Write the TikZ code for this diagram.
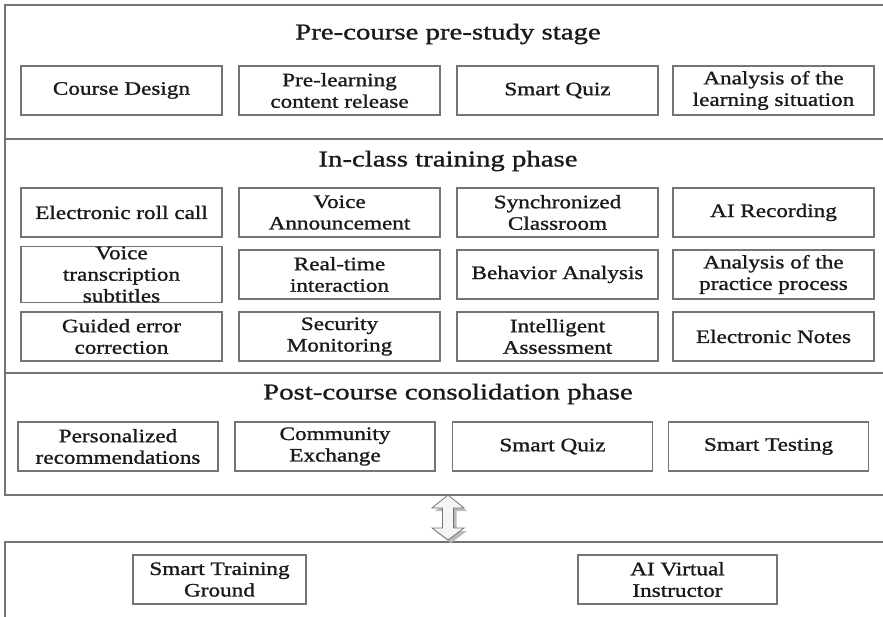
\documentclass[tikz,border=0pt]{standalone}
\usepackage{fontspec}
\setmainfont{Liberation Serif}
\newfontfamily\boxfont[FakeStretch=1.22,FakeBold=1.2]{Liberation Serif}
\newfontfamily\titlefont[FakeStretch=1.28,FakeBold=1.2]{Liberation Serif}
\definecolor{linegray}{HTML}{747474}
\definecolor{txt}{HTML}{1A1A1A}
\tikzset{
  item/.style={draw=linegray, line width=1.3pt, minimum height=49pt, inner sep=0pt,
    align=center, text=txt, font=\boxfont\fontsize{19}{21.5}\selectfont},
  w201/.style={minimum width=201pt},
  w200/.style={minimum width=200pt},
  title/.style={text=txt, font=\titlefont\fontsize{22.5}{26}\selectfont, inner sep=0pt},
  frame/.style={draw=linegray, line width=1.5pt}
}
\begin{document}
\begin{tikzpicture}[x=1pt,y=-1pt]
\useasboundingbox (0,0) rectangle (883,617);
\clip (0,0) rectangle (883,617);
% frames
\draw[frame] (5,5) rectangle (895,495);
\draw[frame] (5,139) -- (895,139);
\draw[frame] (5,373) -- (895,373);
\draw[frame] (5,542) rectangle (895,640);
% titles
\node[title] (t1) at (448,34) {Pre-course pre-study stage};
\node[title] (t2) at (448,161) {In-class training phase};
\node[title] (t3) at (448,394) {Post-course consolidation phase};
% pre-course
\node[item,w201] (p1) at (121.5,90.5) {Course Design};
\node[item,w201] (p2) at (339.5,90.5) {Pre-learning\\content release};
\node[item,w201] (p3) at (557.5,90.5) {Smart Quiz};
\node[item,w201] (p4) at (773.5,90.5) {Analysis of the\\learning situation};
% in-class
\node[item,w201] (a1) at (121.5,212.5) {Electronic roll call};
\node[item,w201] (a2) at (339.5,212.5) {Voice\\Announcement};
\node[item,w201] (a3) at (557.5,212.5) {Synchronized\\Classroom};
\node[item,w201] (a4) at (773.5,212.5) {AI Recording};
\node[item,w201] (b1) at (121.5,274.5) {Voice\\transcription\\subtitles};
\node[item,w201] (b2) at (339.5,274.5) {Real-time\\interaction};
\node[item,w201] (b3) at (557.5,274.5) {Behavior Analysis};
\node[item,w201] (b4) at (773.5,274.5) {Analysis of the\\practice process};
\node[item,w201] (c1) at (121.5,336.5) {Guided error\\correction};
\node[item,w201] (c2) at (339.5,336.5) {Security\\Monitoring};
\node[item,w201] (c3) at (557.5,336.5) {Intelligent\\Assessment};
\node[item,w201] (c4) at (773.5,336.5) {Electronic Notes};
% post-course
\node[item,w200] (q1) at (118,446.5) {Personalized\\recommendations};
\node[item,w200] (q2) at (335,446.5) {Community\\Exchange};
\node[item,w200] (q3) at (552.5,446.5) {Smart Quiz};
\node[item,w200] (q4) at (768.5,446.5) {Smart Testing};
% bottom
\node[item,minimum width=173pt] (s1) at (219.5,579.5) {Smart Training\\Ground};
\node[item,minimum width=199pt] (s2) at (677.5,579.5) {AI Virtual\\Instructor};
% double arrow
\fill[gray!55, shift={(3,3)}] (448,495) -- (464,508) -- (453.5,508) -- (453.5,528) -- (464,528) -- (448,540) -- (432,528) -- (442.5,528) -- (442.5,508) -- (432,508) -- cycle;
\draw[draw=linegray, line width=0.8pt, fill=gray!8] (448,495) -- (464,508) -- (453.5,508) -- (453.5,528) -- (464,528) -- (448,540) -- (432,528) -- (442.5,528) -- (442.5,508) -- (432,508) -- cycle;
\end{tikzpicture}
\end{document}
